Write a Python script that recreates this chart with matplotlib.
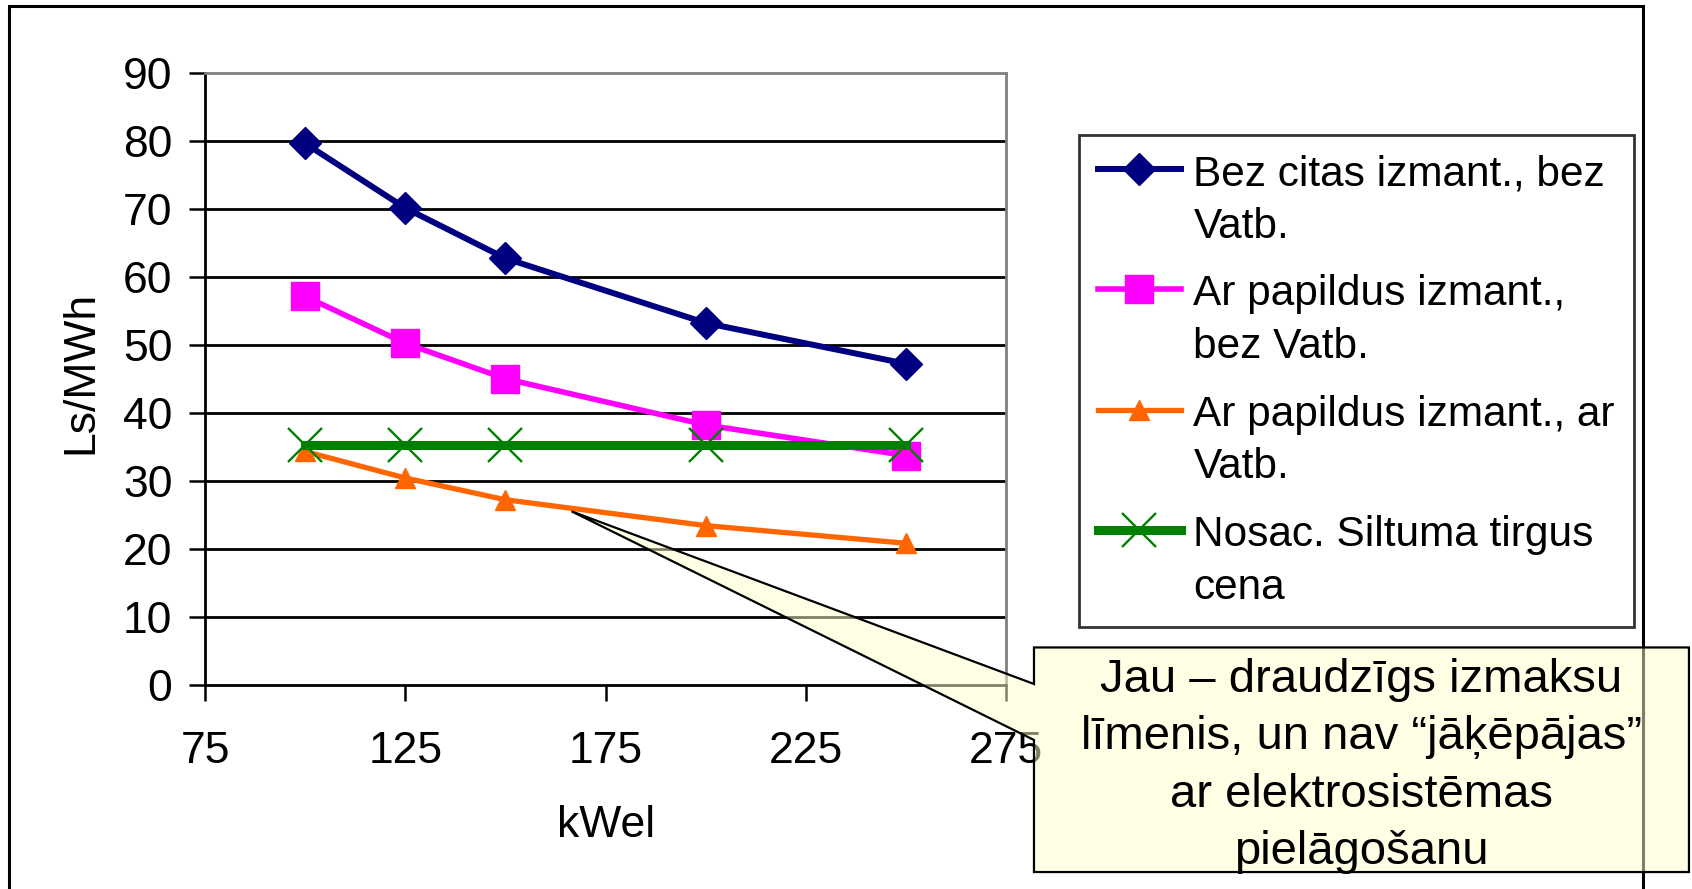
import matplotlib
matplotlib.use('Agg')
import matplotlib.pyplot as plt
from matplotlib.patches import Rectangle, Polygon

plt.rcParams['font.family'] = ['Liberation Sans', 'DejaVu Sans']

# dati
kwel = [100, 125, 150, 200, 250]
bez_citas = [79.6, 70.1, 62.7, 53.2, 47.2]
ar_pap_bez = [57.1, 50.2, 45.0, 38.2, 33.7]
ar_pap_ar = [34.3, 30.4, 27.2, 23.4, 20.8]
tirgus_cena = [35.3, 35.3, 35.3, 35.3, 35.3]

labels = ['Bez citas izmant., bez\nVatb.',
          'Ar papildus izmant.,\nbez Vatb.',
          'Ar papildus izmant., ar\nVatb.',
          'Nosac. Siltuma tirgus\ncena']
x_ticks = [75, 125, 175, 225, 275]
y_ticks = [0, 10, 20, 30, 40, 50, 60, 70, 80, 90]
callout_text = 'Jau – draudzīgs izmaksu\nlīmenis, un nav “jāķēpājas”\nar elektrosistēmas\npielāgošanu'
callout_tip = (166.5, 25.5)

FS = 32

fig = plt.figure(figsize=(16.92, 8.89), dpi=100)
ax = fig.add_axes([0.1212, 0.2298, 0.4734, 0.6884])

ax.plot(kwel, bez_citas, color='#000080', lw=4.3, marker='D', ms=16,
        mec='#000080', mfc='#000080', label=labels[0], zorder=4)
ax.plot(kwel, ar_pap_bez, color='#FF00FF', lw=4.0, marker='s', ms=20,
        mec='#FF00FF', mfc='#FF00FF', label=labels[1], zorder=4)
ax.plot(kwel, ar_pap_ar, color='#FF6600', lw=3.8, marker='^', ms=15,
        mec='#FF6600', mfc='#FF6600', label=labels[2], zorder=4)
ax.plot(kwel, tirgus_cena, color='#008000', lw=6.5, marker='x', ms=24,
        mew=1.7, mec='#008000', label=labels[3], zorder=5)

ax.set_xlim(75, 275)
ax.set_ylim(0, 90)
ax.set_xticks(x_ticks)
ax.set_yticks(y_ticks)
ax.tick_params(axis='both', direction='out', length=11.5, width=1.8,
               labelsize=FS, colors='black')
ax.tick_params(axis='y', pad=12)
ax.tick_params(axis='x', pad=22)

for v in y_ticks[1:-1]:
    ax.axhline(v, color='black', lw=2, zorder=1)

ax.spines['left'].set_linewidth(2)
ax.spines['bottom'].set_linewidth(2)
ax.spines['top'].set_color('#808080')
ax.spines['right'].set_color('#808080')
ax.spines['top'].set_linewidth(2)
ax.spines['right'].set_linewidth(2)

ax.set_xlabel('kWel', fontsize=FS)
ax.xaxis.set_label_coords(0.5, -0.23)
ax.xaxis.label.set_verticalalignment('center')
ax.set_ylabel('Ls/MWh', fontsize=FS)
ax.yaxis.set_label_coords(-0.155, 0.51)
ax.yaxis.label.set_verticalalignment('center')

leg = fig.legend(loc='upper left', bbox_to_anchor=(0.6377, 0.8481),
                 bbox_transform=fig.transFigure, fontsize=30.5, frameon=True,
                 fancybox=False, borderaxespad=0, handlelength=1.95,
                 handletextpad=0.3, borderpad=0.45, labelspacing=0.66)
for t in leg.get_texts():
    t.set_linespacing(1.4)
# simbols pie pirmās teksta rindas, ne vidū
for col in leg._legend_handle_box.get_children():
    for item in col.get_children():
        item.align = 'top'
leg.get_frame().set_edgecolor('black')
leg.get_frame().set_linewidth(2)

# ramis ap visu diagrammu
fig.patches.append(Rectangle((0.0053, -0.05), 0.9657, 1.0433, transform=fig.transFigure,
                             fill=False, edgecolor='black', lw=2.2, zorder=0))

# izsaukuma lodziņš ar ķīli uz oranžo līniju
tip = fig.transFigure.inverted().transform(ax.transData.transform(callout_tip))
L, R, T, B = 0.6111, 0.9982, 0.2717, 0.0191
w_top, w_bot = 0.2306, 0.1676
pts = [(L, T), (R, T), (R, B), (L, B), (L, w_bot), tuple(tip), (L, w_top)]
fig.patches.append(Polygon(pts, closed=True, transform=fig.transFigure,
                           facecolor=(1, 1, 0.8, 0.5), edgecolor='black', lw=1.6, zorder=10))
fig.text((L + R) / 2, (T + B) / 2 - 0.007, callout_text, ha='center', va='center',
         fontsize=34, linespacing=1.4, zorder=11)

fig.savefig('out.png', dpi=100)
